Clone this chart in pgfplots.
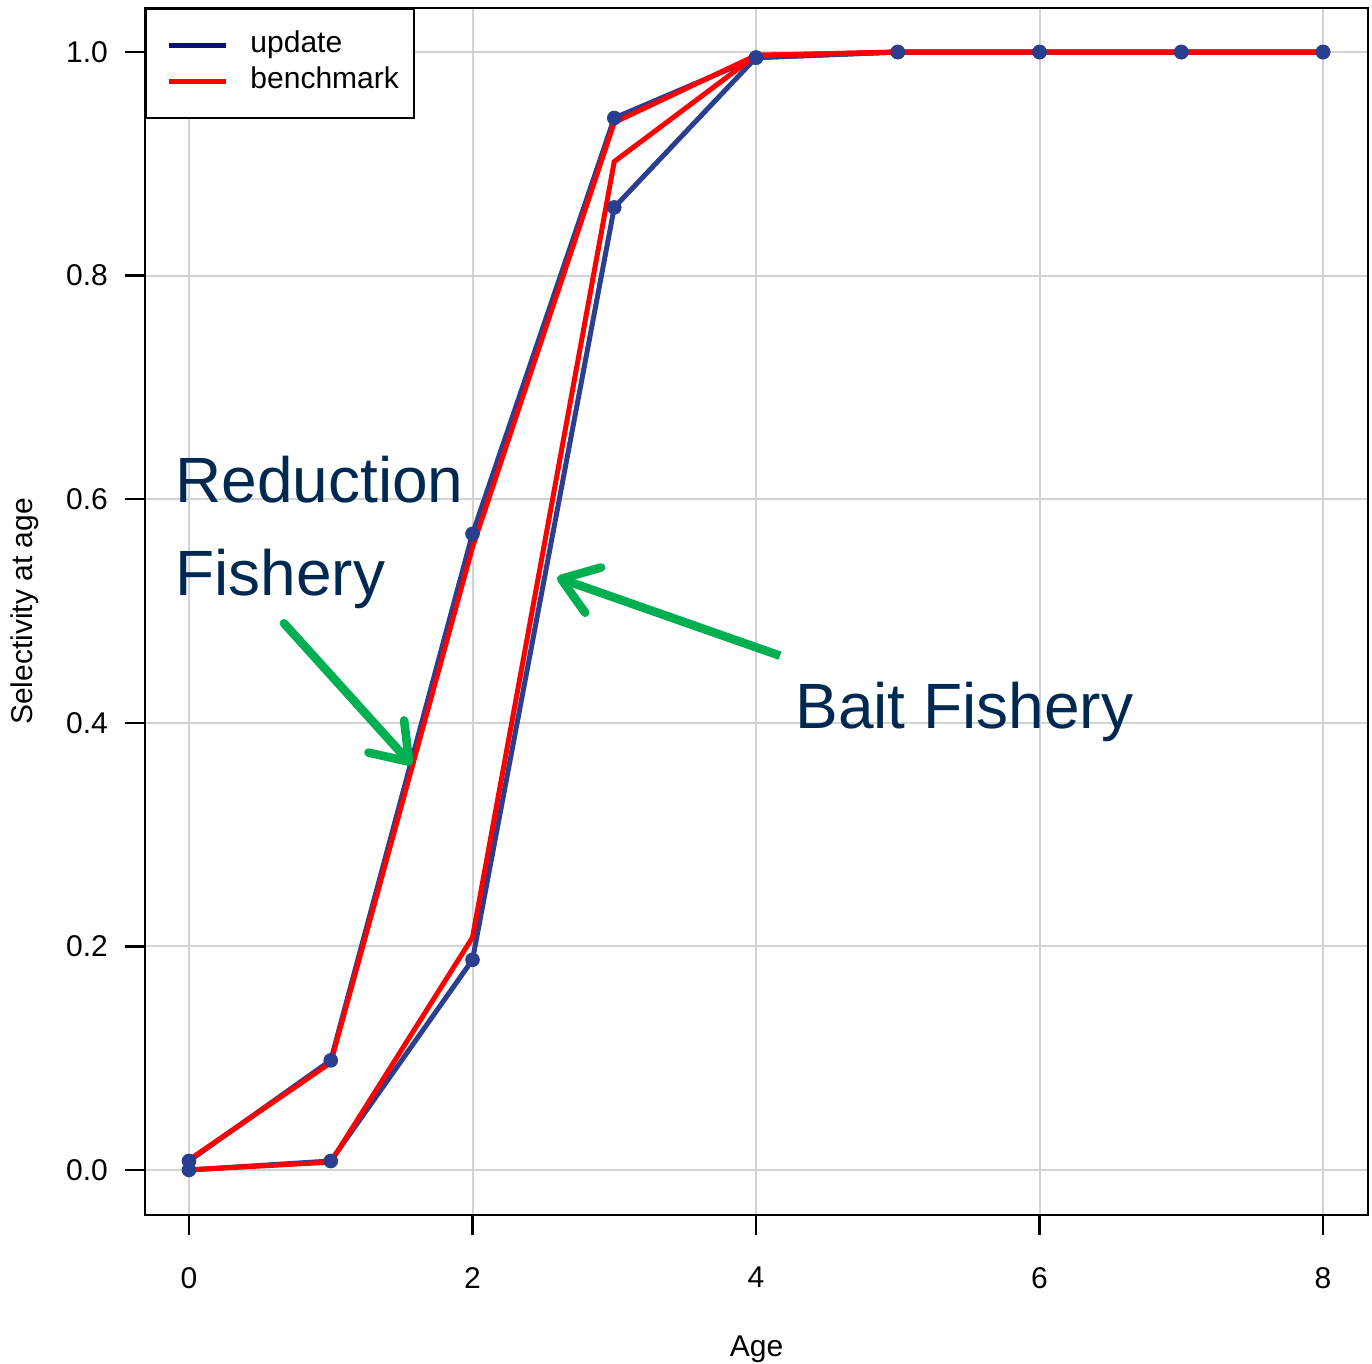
\documentclass[border=0pt]{standalone}
\usepackage{pgfplots}
\pgfplotsset{compat=1.18}
\usepackage{fontspec}
\setmainfont{Liberation Sans}
\usetikzlibrary{arrows.meta}
\definecolor{ublue}{RGB}{42,63,143}
\definecolor{lblue}{RGB}{10,10,140}
\definecolor{ured}{RGB}{255,0,0}
\definecolor{ggrid}{RGB}{211,211,211}
\definecolor{agreen}{RGB}{0,176,80}
\definecolor{tnavy}{RGB}{0,41,82}
\begin{document}
\begin{tikzpicture}
\begin{axis}[
  name=ax,
  width=611.5pt, height=603.5pt, scale only axis,
  xmin=-0.3104, xmax=8.317, ymin=-0.0403, ymax=1.0394,
  xtick={0,2,4,6,8}, ytick={0,0.2,0.4,0.6,0.8,1.0},
  yticklabel style={/pgf/number format/fixed, /pgf/number format/fixed zerofill, /pgf/number format/precision=1},
  /pgf/number format/assume math mode=true,
  grid=major, grid style={ggrid, line width=1pt},
  axis line style={black, line width=1.2pt},
  tick align=outside, major tick length=10pt,
  tick style={black, line width=1.2pt},
  xtick pos=bottom, ytick pos=left,
  tick label style={font=\fontsize{15}{18}\selectfont},
  xticklabel style={anchor=north, yshift=-12.5pt},
  yticklabel style={anchor=east, xshift=-5pt},
  label style={font=\fontsize{15}{18}\selectfont},
  xlabel={Age}, ylabel={Selectivity at age},
  xlabel style={at={(axis description cs:0.5,-0.1176)}, anchor=base},
  ylabel style={at={(axis description cs:-0.098,0.5)}, anchor=center},
  legend cell align=left,
  legend image code/.code={\path[draw=none] (0pt,0pt) -- (4pt,0pt); \draw[#1, line width=2.5pt] (4pt,0pt) -- (32.5pt,0pt);},
  legend style={at={(axis description cs:0,1)}, anchor=north west, draw=black, line width=1pt, fill=white,
    font=\fontsize{15}{18}\selectfont, inner xsep=7.5pt, inner ysep=10.75pt, row sep=3pt,
    nodes={inner sep=0pt, text height=11pt, text depth=4pt},
    /tikz/every odd column/.append style={column sep=11pt}},
]
\addlegendimage{lblue}
\addlegendentry{update}
\addlegendimage{ured}
\addlegendentry{benchmark}
% update, reduction fishery
\addplot[ublue, line width=2.5pt, mark=*, mark size=3.4pt, mark options={solid, fill=ublue, draw=ublue, line width=0.5pt}, forget plot]
  coordinates {(0,0.008) (1,0.098) (2,0.569) (3,0.941) (4,0.995) (5,1.0) (6,1.0) (7,1.0) (8,1.0)};
% update, bait fishery
\addplot[ublue, line width=2.5pt, mark=*, mark size=3.4pt, mark options={solid, fill=ublue, draw=ublue, line width=0.5pt}, forget plot]
  coordinates {(0,0.0) (1,0.008) (2,0.188) (3,0.861) (4,0.995) (5,1.0) (6,1.0) (7,1.0) (8,1.0)};
% benchmark, reduction fishery
\addplot[ured, line width=2.5pt, forget plot]
  coordinates {(0,0.009) (1,0.096) (2,0.557) (3,0.937) (4,0.997) (5,1.0) (6,1.0) (7,1.0) (8,1.0)};
% benchmark, bait fishery
\addplot[ured, line width=2.5pt, forget plot]
  coordinates {(0,0.0) (1,0.007) (2,0.208) (3,0.902) (4,0.997) (5,1.0) (6,1.0) (7,1.0) (8,1.0)};
% annotations
\node[anchor=base west, inner sep=0pt, text=tnavy, font=\fontsize{32}{38}\selectfont] at (axis cs:-0.099,0.5966) {Reduction};
\node[anchor=base west, inner sep=0pt, text=tnavy, font=\fontsize{32}{38}\selectfont] at (axis cs:-0.099,0.5143) {Fishery};
\node[anchor=base west, inner sep=0pt, text=tnavy, font=\fontsize{32}{38}\selectfont] at (axis cs:4.275,0.395) {Bait Fishery};
\draw[agreen, line width=4.3pt, line cap=round, -{Straight Barb[length=17pt, width=24pt, round]}] (axis cs:0.670,0.489) -- (axis cs:1.573,0.3623);
\draw[agreen, line width=4.3pt, -{Straight Barb[length=17pt, width=24pt, round]}] (axis cs:4.169,0.460) -- (axis cs:2.596,0.530);
\end{axis}
\pgfresetboundingbox
\path ([xshift=-72.5pt,yshift=-74.5pt]ax.south west) rectangle ([xshift=2pt,yshift=4pt]ax.north east);
\end{tikzpicture}
\end{document}
